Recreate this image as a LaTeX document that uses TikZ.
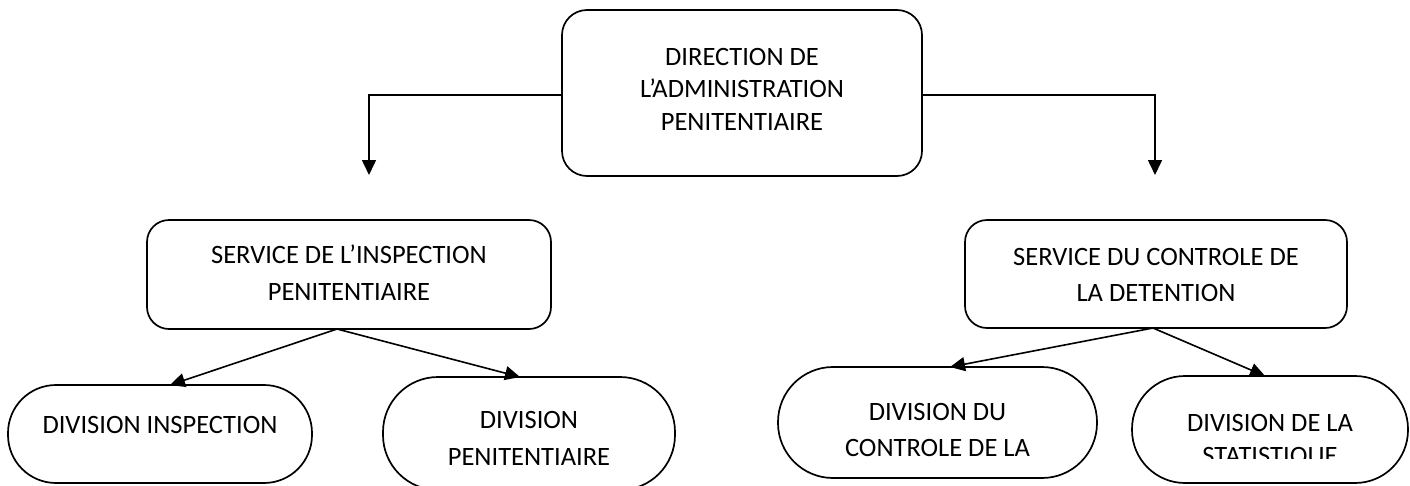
\documentclass[tikz,border=0pt]{standalone}
\usepackage{fontspec}
\setmainfont{Carlito}
\usetikzlibrary{arrows.meta}
\begin{document}
\begin{tikzpicture}[x=1pt,y=-1pt,
  box/.style={draw, line width=1.7pt, inner sep=0pt},
  txt/.style={align=center, anchor=base, inner sep=0pt, font=\fontsize{26.5}{33}\selectfont},
  conn/.style={line width=1.6pt, -{Triangle[length=15pt,width=14pt]}}]
\useasboundingbox[fill=white] (0,0) rectangle (1410,485);
% boxes
\node[box, rounded corners=25pt, minimum width=360pt, minimum height=166pt] (top) at (742,93) {};
\node[box, rounded corners=22pt, minimum width=404pt, minimum height=109pt] (svcL) at (349,274.5) {};
\node[box, rounded corners=22pt, minimum width=382pt, minimum height=108pt] (svcR) at (1156,274) {};
\node[box, rounded corners=48pt, minimum width=304pt, minimum height=98pt] (divI) at (160,434) {};
\node[box, rounded corners=55pt, minimum width=292pt, minimum height=113pt] (divP) at (529,433.5) {};
\node[box, rounded corners=55pt, minimum width=319pt, minimum height=111pt] (divC) at (937.5,422.5) {};
\node[box, rounded corners=53pt, minimum width=276pt, minimum height=107pt] (divS) at (1270,429.5) {};
% texts (anchor base = baseline of the last line)
\node[txt, font=\fontsize{26.5}{32.5}\selectfont] (topT) at (742,130) {DIRECTION DE\\L’ADMINISTRATION\\PENITENTIAIRE};
\node[txt, font=\fontsize{26.5}{37}\selectfont] (svcLT) at (349,300) {SERVICE DE L’INSPECTION\\PENITENTIAIRE};
\node[txt, font=\fontsize{26.5}{36}\selectfont] (svcRT) at (1156,301) {SERVICE DU CONTROLE DE\\LA DETENTION};
\node[txt] (divIT) at (160,433) {DIVISION INSPECTION};
\node[txt, font=\fontsize{26.5}{37}\selectfont] (divPT) at (529,465) {DIVISION\\PENITENTIAIRE};
\node[txt, font=\fontsize{26.5}{36}\selectfont] (divCT) at (937.5,456) {DIVISION DU\\CONTROLE DE LA};
\begin{scope}
\clip (1132,376) rectangle (1408,458);
\node[txt, font=\fontsize{26.5}{33}\selectfont] (divST) at (1270,464) {DIVISION DE LA\\STATISTIQUE};
\end{scope}
% connectors
\coordinate (aL) at (369,175);
\coordinate (aR) at (1155,175);
\coordinate (oL) at (337,329);
\coordinate (oR) at (1153,328);
\coordinate (tI) at (170,385);
\coordinate (tP) at (520,377);
\coordinate (tC) at (950,367);
\coordinate (tS) at (1265,376);
\draw[conn] ([yshift=-2pt]top.west) -| (aL);
\draw[conn] ([yshift=-2pt]top.east) -| (aR);
\draw[conn] (oL) -- (tI);
\draw[conn] (oL) -- (tP);
\draw[conn] (oR) -- (tC);
\draw[conn] (oR) -- (tS);
\end{tikzpicture}
\end{document}
